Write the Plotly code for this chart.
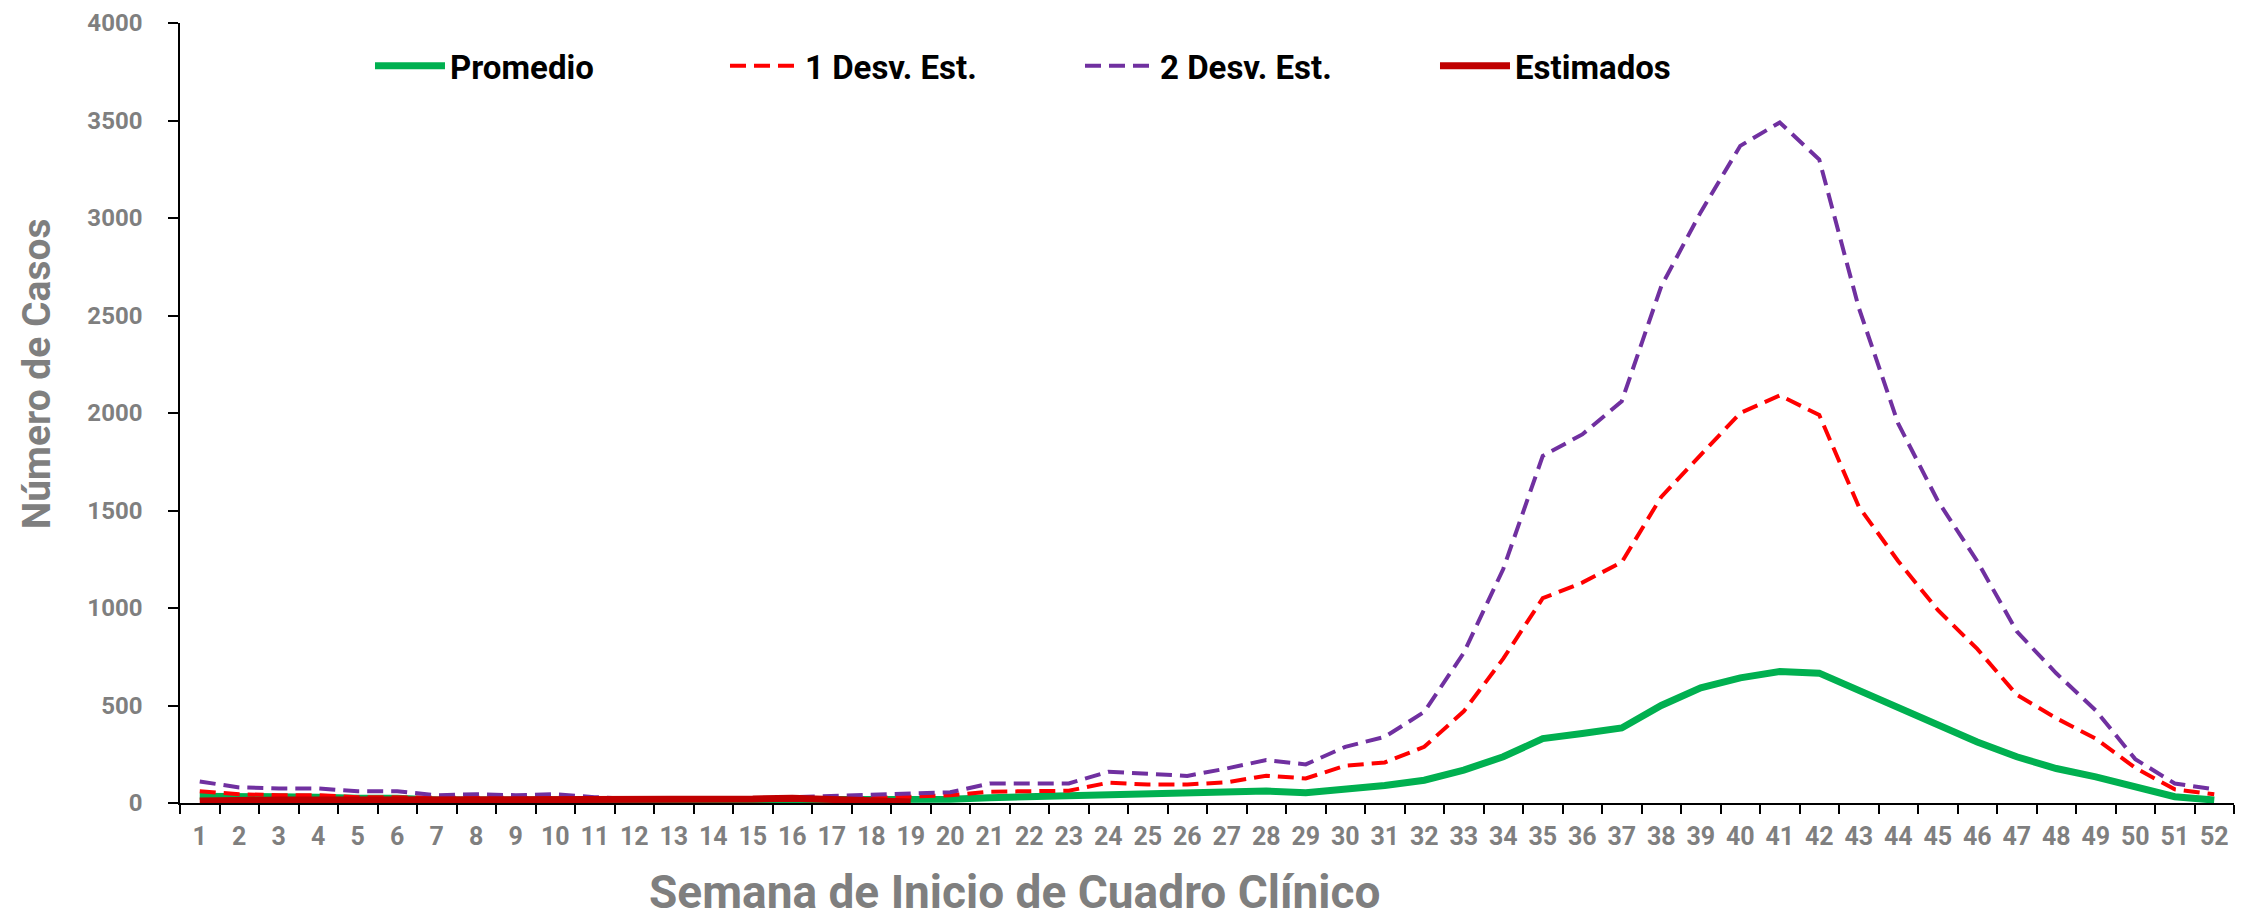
import plotly.graph_objects as go

semanas = [str(i) for i in range(1, 53)]

promedio = [35, 35, 30, 30, 25, 25, 15, 15, 15, 15, 10, 10, 10, 10, 10, 10, 10, 10, 10, 19,
            27, 32, 32, 43, 43, 46, 53, 61, 53, 70, 90, 117, 169, 237, 330, 356, 385, 500, 591, 642,
            674, 666, 577, 484, 398, 313, 237, 177, 134, 83, 32, 15]

desv1 = [60, 45, 40, 40, 30, 30, 25, 25, 25, 25, 15, 15, 15, 15, 15, 20, 20, 25, 30, 40,
         58, 63, 63, 104, 95, 95, 106, 140, 126, 191, 208, 288, 470, 740, 1050, 1130, 1235, 1570, 1785, 2000,
         2090, 1990, 1520, 1240, 990, 790, 555, 435, 330, 180, 70, 45]

desv2 = [110, 80, 75, 75, 60, 60, 40, 45, 40, 45, 30, 20, 20, 20, 20, 30, 35, 45, 50, 55,
         100, 100, 100, 160, 148, 139, 177, 220, 198, 288, 339, 467, 770, 1200, 1780, 1890, 2060, 2650, 3030, 3370,
         3490, 3300, 2540, 1945, 1550, 1240, 880, 665, 475, 225, 100, 70]

estimados = [10, 15, 15, 15, 15, 15, 15, 15, 15, 15, 12, 12, 15, 15, 20, 25, 20, 15, 5]

y_ticks = [0, 500, 1000, 1500, 2000, 2500, 3000, 3500, 4000]

titulo_x = "Semana de Inicio de Cuadro Clínico"
titulo_y = "Número de Casos"

FONT = "Roboto"
GRAY = "#7F7F7F"

fig = go.Figure()
fig.add_trace(go.Scatter(x=semanas, y=promedio, name="Promedio", mode="lines",
                         line=dict(color="#00B050", width=7)))
fig.add_trace(go.Scatter(x=semanas, y=desv1, name="1 Desv. Est.", mode="lines",
                         line=dict(color="#FF0000", width=4, dash="16px,8px")))
fig.add_trace(go.Scatter(x=semanas, y=desv2, name="2 Desv. Est.", mode="lines",
                         line=dict(color="#7030A0", width=4, dash="16px,8px")))
fig.add_trace(go.Scatter(x=semanas[:len(estimados)], y=estimados, name="Estimados", mode="lines",
                         line=dict(color="#C00000", width=7)))

# the page adds an 8px body margin, so the figure is 8px smaller than the window
fig.update_layout(
    width=2236, height=911,
    margin=dict(l=172, r=10, t=15, b=116, autoexpand=False),
    paper_bgcolor="white", plot_bgcolor="rgba(0,0,0,0)",
    font=dict(family=FONT, color=GRAY),
    showlegend=True,
    legend=dict(orientation="h", x=0.0925, xanchor="left", y=0.945, yanchor="middle",
                itemwidth=70, entrywidth=270, entrywidthmode="pixels",
                font=dict(family=FONT, size=33, color="black", weight="bold"),
                bgcolor="rgba(0,0,0,0)"),
    annotations=[
        dict(text=titulo_x, xref="paper", yref="paper", x=0.4065, y=-0.114,
             xanchor="center", yanchor="middle", showarrow=False,
             font=dict(family=FONT, size=46, color=GRAY, weight="bold")),
        dict(text=titulo_y, xref="paper", yref="paper", x=-0.0695, y=0.55,
             xanchor="center", yanchor="middle", showarrow=False, textangle=-90,
             font=dict(family=FONT, size=39, color=GRAY, weight="bold")),
    ],
)

fig.update_xaxes(
    type="category", range=[-0.5, 51.5], automargin=False,
    tickson="boundaries", ticks="outside", ticklen=9, tickwidth=1.5, tickcolor="black",
    showline=True, linecolor="black", linewidth=2,
    showgrid=False, zeroline=False,
    tickfont=dict(family=FONT, size=25, color=GRAY, weight="bold"),
    ticklabelstandoff=10, ticklabeloverflow="allow",
)

fig.update_yaxes(
    range=[0, 4000], tickvals=y_ticks, automargin=False,
    ticks="outside", ticklen=10, tickwidth=1.5, tickcolor="black",
    showline=True, linecolor="black", linewidth=1.5,
    showgrid=False, zeroline=False,
    tickfont=dict(family=FONT, size=24, color=GRAY, weight="bold"),
    ticklabelstandoff=21, ticklabeloverflow="allow",
)

fig.write_html("out.html")
